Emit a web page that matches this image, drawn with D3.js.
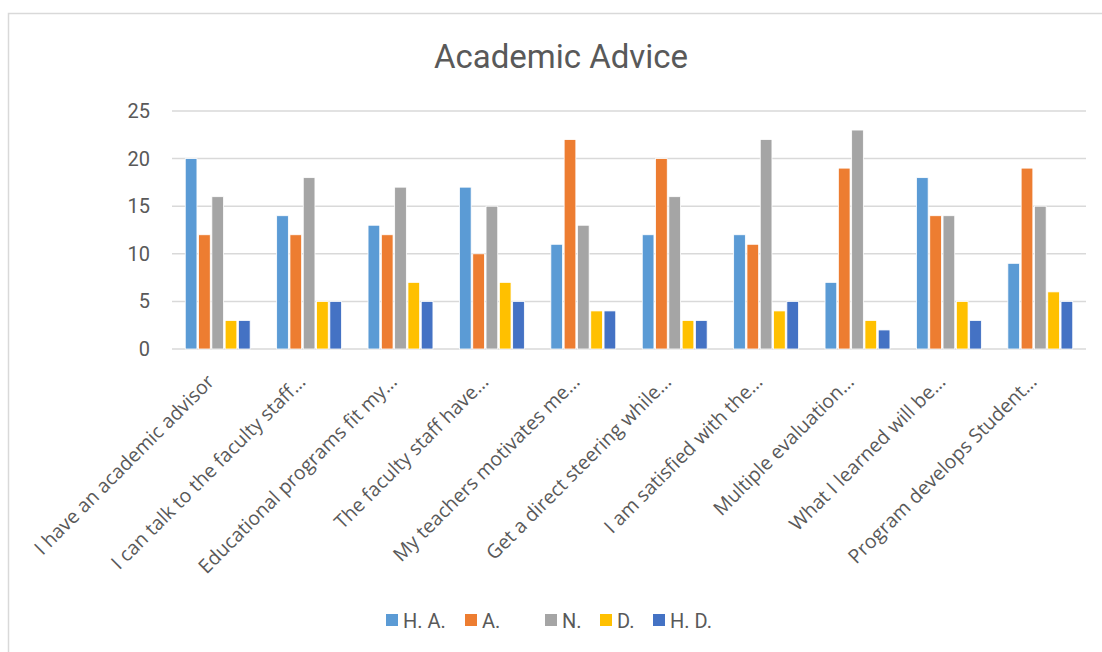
<!DOCTYPE html>
<html>
<head>
<meta charset="utf-8">
<script src="https://cdn.jsdelivr.net/npm/d3@7"></script>
<style>
  body { margin: 0; background: #fff; }
  text { fill: #595959; }
</style>
</head>
<body>
<svg id="chart" width="1102" height="652"></svg>
<script>
var categories = [
  "I have an academic advisor",
  "I can talk to the faculty staff…",
  "Educational programs fit my…",
  "The faculty staff have…",
  "My teachers motivates me…",
  "Get a direct steering while…",
  "I am satisfied with the…",
  "Multiple evaluation…",
  "What I learned will be…",
  "Program develops Student…"
];
var seriesNames = ["H. A.", "A.", "N.", "D.", "H. D."];
var colors = ["#5B9BD5", "#ED7D31", "#A5A5A5", "#FFC000", "#4472C4"];
var haValues = [20, 14, 13, 17, 11, 12, 12, 7, 18, 9];
var aValues  = [12, 12, 12, 10, 22, 20, 11, 19, 14, 19];
var nValues  = [16, 18, 17, 15, 13, 16, 22, 23, 14, 15];
var dValues  = [3, 5, 7, 7, 4, 3, 4, 3, 5, 6];
var hdValues = [3, 5, 5, 5, 4, 3, 5, 2, 3, 5];
var yTicks = [0, 5, 10, 15, 20, 25];

var allValues = [haValues, aValues, nValues, dValues, hdValues];
var rows = categories.map(function (c, i) {
  return { cat: c, vals: seriesNames.map(function (s, j) { return { key: s, value: allValues[j][i], color: colors[j] }; }) };
});

var svg = d3.select("#chart");

// outer frame
svg.append("rect")
  .attr("x", 8.5).attr("y", 13.5)
  .attr("width", 1110).attr("height", 700)
  .attr("fill", "none").attr("stroke", "#D9D9D9").attr("stroke-width", 1.5);

svg.append("text")
  .attr("x", 561).attr("y", 68)
  .attr("text-anchor", "middle")
  .style("font-family", "Roboto")
  .style("font-size", "33px")
  .text("Academic Advice");

var plotLeft = 172, plotRight = 1086, plotTop = 111, plotBottom = 349;

var x0 = d3.scaleBand().domain(categories).range([plotLeft, plotRight])
  .paddingInner(0.255).paddingOuter(0.1275);
var x1 = d3.scaleBand().domain(seriesNames).range([0, x0.bandwidth()]).padding(0.12);
var y = d3.scaleLinear().domain([0, 25]).range([plotBottom, plotTop]);

// gridlines
svg.append("g").selectAll("line").data(yTicks).enter().append("line")
  .attr("x1", plotLeft).attr("x2", plotRight)
  .attr("y1", function (d) { return y(d); }).attr("y2", function (d) { return y(d); })
  .attr("stroke", "#D9D9D9").attr("stroke-width", 1.5);

// y axis labels
var yAxis = svg.append("g")
  .attr("transform", "translate(" + (plotLeft - 22) + ",0)")
  .call(d3.axisLeft(y).tickValues(yTicks).tickSize(0).tickPadding(0));
yAxis.select(".domain").remove();
yAxis.selectAll("text")
  .attr("fill", "#595959")
  .style("font-family", "Roboto")
  .style("font-size", "20px");

// bars
var groups = svg.append("g").selectAll("g").data(rows).enter().append("g")
  .attr("transform", function (d) { return "translate(" + x0(d.cat) + ",0)"; });
groups.selectAll("rect").data(function (d) { return d.vals; }).enter().append("rect")
  .attr("x", function (d) { return x1(d.key); })
  .attr("y", function (d) { return y(d.value); })
  .attr("width", x1.bandwidth())
  .attr("height", function (d) { return y(0) - y(d.value); })
  .attr("fill", function (d) { return d.color; })
  .attr("stroke", "#fff").attr("stroke-width", 0.8);

// category labels
var xAxis = svg.append("g")
  .attr("transform", "translate(0," + (plotBottom + 22) + ")")
  .call(d3.axisBottom(x0).tickSize(0).tickPadding(0));
xAxis.select(".domain").remove();
xAxis.selectAll("text")
  .attr("fill", "#595959")
  .style("font-family", "'Open Sans'")
  .style("font-size", "19.5px")
  .attr("text-anchor", "end")
  .attr("x", -10)
  .attr("y", 0)
  .attr("dy", "0.35em")
  .attr("transform", "rotate(-45)");

// legend
var legendX = [386, 465, 545, 600, 653];
var legend = svg.append("g").selectAll("g").data(seriesNames).enter().append("g")
  .attr("transform", function (d, i) { return "translate(" + legendX[i] + ",614)"; });
legend.append("rect").attr("width", 12).attr("height", 12)
  .attr("fill", function (d, i) { return colors[i]; });
legend.append("text").attr("x", 17).attr("y", 13.5)
  .style("font-family", "Roboto").style("font-size", "20px")
  .text(function (d) { return d; });
</script>
</body>
</html>
